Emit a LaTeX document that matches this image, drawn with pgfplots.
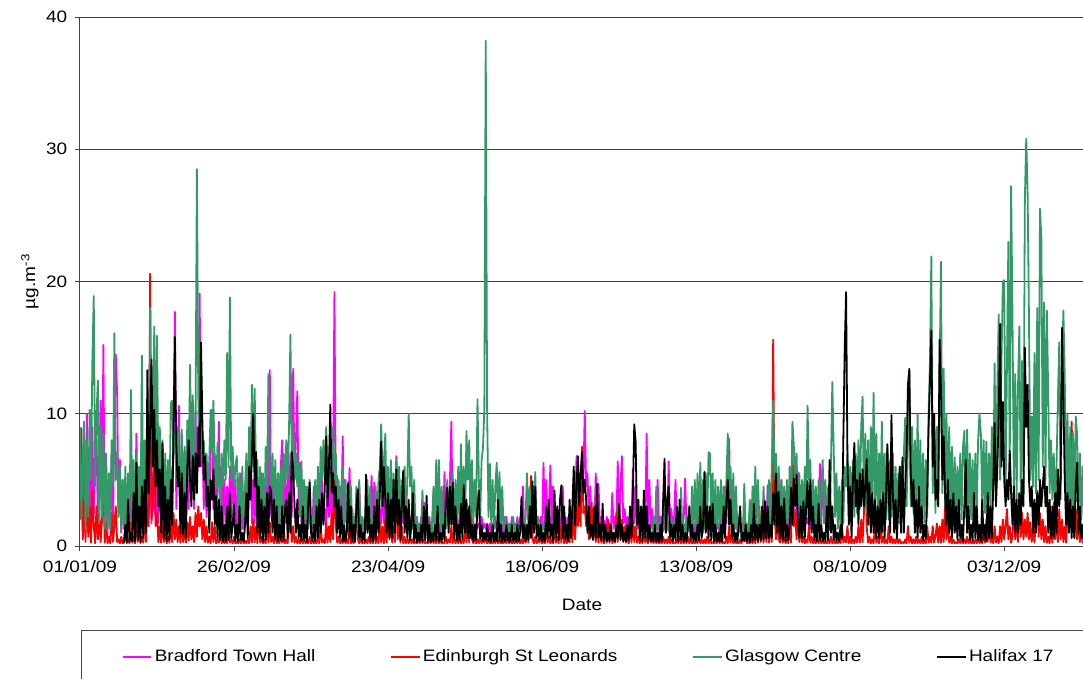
\documentclass[border=0pt]{standalone}
\usepackage{pgfplots}
\usepackage{pgfplotstable}
\pgfplotsset{compat=1.18}
\usepackage{fontspec}
\setmainfont{Liberation Sans}[FakeStretch=1.15]
\definecolor{bradford}{RGB}{255,0,255}
\definecolor{edinburgh}{RGB}{255,0,0}
\definecolor{glasgow}{RGB}{51,153,102}
\definecolor{halifax}{RGB}{0,0,0}
\newcommand{\chartfont}{\fontsize{12.4pt}{14pt}\selectfont}
\pgfplotstableread{
x B E G H
0.0 2.2 2.0 9.0 nan
0.5 6.0 8.9 2.2 nan
1.0 1.3 0.5 6.5 nan
1.5 8.0 3.5 9.4 nan
2.0 1.0 0.3 1.3 nan
2.5 10.0 5.0 8.0 nan
3.0 1.7 0.7 2.2 nan
3.5 7.5 3.0 10.3 nan
4.0 1.3 0.25 5.0 nan
4.5 9.0 4.2 14.0 nan
5.0 2.2 1.5 18.9 nan
5.5 6.0 0.2 4.5 nan
6.0 8.5 3.0 10.0 nan
6.5 1.7 0.5 12.5 nan
7.0 5.5 2.5 1.7 nan
7.5 11.0 0.3 9.0 nan
8.0 1.7 2.0 2.2 nan
8.5 15.2 5.0 8.5 nan
9.0 1.3 0.25 1.3 nan
9.5 6.0 1.8 7.0 nan
10.0 1.0 0.2 1.1 nan
10.5 5.0 0.7 5.5 nan
11.0 1.3 0.2 1.3 nan
11.5 7.0 2.5 8.0 nan
12.0 1.7 0.3 4.5 nan
12.5 9.0 1.5 16.1 nan
13.0 14.5 3.0 5.0 nan
13.5 11.5 0.3 7.1 nan
14.0 2.2 0.5 2.2 nan
14.5 6.5 0.2 6.0 nan
15.0 1.0 0.7 1.1 nan
15.5 5.0 0.2 5.0 0.35
16.0 1.3 0.25 1.3 0.3
16.5 4.5 1.5 6.0 1.6
17.0 1.0 0.2 1.1 0.3
17.5 2.2 0.5 5.5 3.5
18.0 1.1 0.2 1.3 0.3
18.5 5.0 1.8 11.8 1.0
19.0 1.3 0.25 2.2 0.35
19.5 2.8 0.7 6.5 4.0
20.0 1.7 0.2 1.3 0.35
20.5 8.5 2.0 7.0 6.3
21.0 1.3 0.3 1.7 0.45
21.5 5.5 1.5 6.0 3.0
22.0 1.7 0.2 2.2 0.3
22.5 6.0 0.7 14.4 4.5
23.0 1.3 0.25 1.7 0.6
23.5 4.5 2.5 8.0 5.0
24.0 1.7 0.3 4.5 1.0
24.5 5.5 3.0 10.0 13.3
25.0 2.2 1.5 6.0 4.0
25.5 6.0 20.6 18.0 9.0
26.0 1.7 2.0 7.5 14.1
26.5 5.5 3.0 9.0 6.0
27.0 2.8 8.8 16.6 10.3
27.5 2.2 1.5 6.0 4.5
28.0 5.0 2.5 15.9 8.0
28.5 1.7 0.3 5.0 3.0
29.0 6.5 1.5 9.0 5.8
29.5 1.7 0.25 4.5 1.0
30.0 5.0 2.0 8.0 7.8
30.5 1.3 0.3 2.2 0.6
31.0 4.5 1.5 7.0 4.5
31.5 1.3 0.2 1.7 0.35
32.0 5.0 0.7 6.5 3.5
32.5 1.7 0.25 2.2 0.45
33.0 6.0 1.8 10.8 5.0
33.5 2.2 0.3 11.0 1.6
34.0 8.0 2.5 7.0 9.0
34.5 17.7 0.5 8.5 15.8
35.0 2.8 2.0 5.0 7.8
35.5 7.0 0.3 9.0 4.5
36.0 10.6 1.5 6.0 6.0
36.5 2.2 0.25 4.5 1.0
37.0 6.0 2.0 8.8 5.5
37.5 1.7 0.3 2.2 0.9
38.0 5.5 1.5 7.5 4.0
38.5 1.7 0.25 2.2 0.6
39.0 7.0 1.8 9.5 6.0
39.5 2.8 0.4 5.0 8.0
40.0 11.3 2.2 13.7 5.0
40.5 4.5 0.5 6.0 3.0
41.0 8.0 1.5 11.4 6.8
41.5 2.8 0.3 5.0 3.5
42.0 10.2 2.5 9.0 7.0
42.5 5.0 0.7 28.5 4.0
43.0 7.0 3.0 11.4 9.0
43.5 19.1 1.5 8.0 6.0
44.0 6.0 2.5 10.0 15.4
44.5 8.5 0.5 6.5 9.3
45.0 2.8 2.0 8.0 5.0
45.5 7.0 0.3 5.0 6.8
46.0 2.2 1.5 7.0 3.0
46.5 6.0 0.25 4.5 4.5
47.0 1.7 0.7 6.5 1.0
47.5 8.5 0.2 10.3 5.0
48.0 10.3 1.8 7.0 3.5
48.5 2.8 0.3 11.0 5.8
49.0 7.0 1.5 6.0 1.6
49.5 2.2 0.2 4.5 3.8
50.0 5.0 0.5 7.8 0.6
50.5 9.4 0.25 5.0 3.5
51.0 1.7 1.5 2.2 0.45
51.5 6.0 0.2 7.0 3.0
52.0 1.7 0.5 4.5 0.35
52.5 5.0 0.2 8.0 1.6
53.0 1.3 0.7 5.0 0.3
53.5 4.5 0.2 14.6 3.0
54.0 1.7 1.5 6.0 0.45
54.5 6.0 0.25 18.8 4.0
55.0 2.2 0.5 5.0 0.6
55.5 7.0 0.2 7.5 1.6
56.0 1.7 0.7 4.5 3.2
56.5 5.0 0.2 6.0 0.35
57.0 1.3 0.3 6.8 1.6
57.5 4.5 0.2 2.2 0.35
58.0 1.7 0.5 5.5 3.0
58.5 5.5 0.2 1.7 0.45
59.0 1.3 0.7 6.0 1.0
59.5 2.8 0.2 1.3 0.3
60.0 1.7 0.4 4.5 1.6
60.5 5.0 0.2 7.0 4.0
61.0 1.3 0.5 2.2 0.6
61.5 6.0 0.2 9.0 6.0
62.0 7.8 1.5 5.0 3.5
62.5 1.7 0.25 12.2 7.0
63.0 5.0 2.0 6.0 10.0
63.5 1.7 0.3 11.9 4.5
64.0 6.0 1.5 5.0 7.1
64.5 1.3 0.2 6.5 1.0
65.0 5.0 2.6 2.2 4.5
65.5 1.7 0.25 6.0 0.6
66.0 5.5 0.7 1.7 3.5
66.5 1.3 0.2 5.5 0.35
67.0 4.5 0.5 1.3 3.0
67.5 1.7 0.2 7.5 0.45
68.0 6.0 1.5 4.5 4.0
68.5 2.8 0.25 13.0 1.0
69.0 13.3 1.8 6.0 4.5
69.5 2.2 0.3 4.5 4.1
70.0 6.0 0.7 7.0 1.0
70.5 1.7 0.2 2.2 3.5
71.0 5.0 1.5 6.5 0.45
71.5 1.3 0.2 1.7 3.0
72.0 5.5 0.5 5.5 0.35
72.5 1.7 0.2 1.3 1.6
73.0 6.0 0.7 6.0 0.45
73.5 8.0 0.25 2.2 3.0
74.0 2.8 1.5 7.0 0.35
74.5 5.0 0.2 4.5 2.8
75.0 1.7 0.5 8.0 3.5
75.5 6.5 0.2 5.0 0.6
76.0 2.8 1.8 9.0 4.0
76.5 7.0 2.2 16.0 1.0
77.0 2.2 0.3 6.0 7.1
77.5 13.4 1.5 9.4 5.8
78.0 5.0 0.25 5.0 3.0
78.5 8.0 0.7 7.0 1.0
79.0 11.7 0.2 4.5 3.5
79.5 2.8 0.5 6.3 0.6
80.0 6.3 0.2 2.2 1.6
80.5 1.7 0.7 6.4 0.35
81.0 5.0 0.2 1.7 3.0
81.5 1.3 0.5 5.0 0.45
82.0 4.5 0.2 1.3 1.6
82.5 1.3 0.3 4.5 0.3
83.0 2.8 0.2 1.3 3.5
83.5 1.7 0.7 5.0 4.8
84.0 2.3 0.2 1.7 1.0
84.5 1.3 0.5 2.2 0.35
85.0 4.5 0.2 1.3 1.6
85.5 1.3 0.3 5.0 0.35
86.0 2.8 0.2 1.7 3.0
86.5 1.7 0.7 6.0 0.6
87.0 5.0 0.2 2.2 3.5
87.5 2.2 1.5 7.5 1.0
88.0 5.0 0.25 5.0 4.0
88.5 1.7 0.5 8.0 1.6
89.0 2.8 0.2 5.0 4.5
89.5 1.7 1.8 9.0 8.3
90.0 4.5 0.25 6.0 3.0
90.5 2.2 1.5 7.0 6.0
91.0 5.0 0.3 4.5 10.7
91.5 1.7 2.5 6.0 4.0
92.0 5.5 0.5 9.0 5.5
92.5 19.2 6.0 5.0 3.0
93.0 2.8 1.5 7.0 4.5
93.5 5.3 0.25 2.2 1.0
94.0 1.7 0.7 5.0 3.5
94.5 4.5 0.2 1.7 0.6
95.0 1.7 0.5 4.5 3.0
95.5 8.3 0.2 6.0 0.35
96.0 1.7 0.7 1.7 1.6
96.5 5.0 0.2 5.0 0.35
97.0 1.3 0.5 1.3 1.0
97.5 2.8 0.2 4.5 4.8
98.0 5.9 1.5 1.3 0.6
98.5 1.3 0.2 4.5 3.0
99.0 2.8 0.5 1.3 0.35
99.5 1.3 0.2 2.2 1.6
100.0 2.2 0.7 1.1 0.3
100.5 1.3 4.1 4.5 3.0
101.0 2.8 0.5 1.3 4.3
101.5 4.8 0.2 5.0 0.6
102.0 1.3 0.7 1.3 1.6
102.5 2.2 0.2 2.2 0.35
103.0 1.0 0.3 1.1 1.0
103.5 2.2 0.2 2.2 0.35
104.0 1.3 0.5 1.3 5.4
104.5 2.8 0.2 5.0 1.0
105.0 1.3 0.7 1.3 3.0
105.5 2.2 0.2 4.5 0.45
106.0 5.3 0.5 1.3 1.6
106.5 1.3 0.2 2.2 0.35
107.0 4.8 1.5 1.1 3.0
107.5 1.3 0.2 4.5 0.45
108.0 2.2 0.7 1.3 3.5
108.5 1.3 0.2 5.0 1.0
109.0 2.8 1.8 6.0 4.0
109.5 1.7 0.25 9.2 7.9
110.0 4.5 1.5 5.0 3.0
110.5 1.7 0.2 6.5 6.0
111.0 5.0 2.0 8.5 3.5
111.5 1.7 0.25 2.2 1.0
112.0 2.8 3.6 6.0 4.0
112.5 1.3 0.5 1.7 0.6
113.0 4.5 2.0 6.5 3.5
113.5 1.7 0.25 2.2 0.6
114.0 5.0 1.5 5.5 5.0
114.5 1.7 0.3 1.7 1.0
115.0 6.8 6.4 6.5 5.8
115.5 2.2 0.5 2.2 1.6
116.0 4.5 2.0 6.0 3.5
116.5 1.3 0.25 1.7 0.45
117.0 2.8 1.5 5.0 3.0
117.5 1.7 0.2 2.2 5.7
118.0 5.3 0.7 6.0 1.0
118.5 1.3 0.2 1.7 3.0
119.0 2.8 0.5 5.0 0.6
119.5 1.7 0.2 10.0 3.5
120.0 2.2 0.7 4.5 0.45
120.5 1.3 0.2 6.0 1.6
121.0 4.1 0.5 1.3 4.0
121.5 1.3 0.2 5.0 0.35
122.0 2.2 0.3 1.1 1.6
122.5 1.0 0.2 2.2 0.3
123.0 1.7 0.5 1.1 1.0
123.5 1.0 0.2 1.7 0.35
124.0 2.2 0.7 1.1 1.6
124.5 1.3 0.2 4.2 0.35
125.0 3.3 0.5 0.9 3.0
125.5 1.0 0.2 1.7 0.45
126.0 1.7 0.3 1.1 3.8
126.5 1.0 0.2 2.2 0.35
127.0 2.2 0.5 1.1 1.6
127.5 1.3 0.2 1.7 0.3
128.0 1.7 0.7 1.1 1.0
128.5 4.0 0.2 4.5 0.35
129.0 1.3 0.5 1.3 1.6
129.5 2.2 0.2 6.5 0.45
130.0 1.3 0.7 2.2 3.0
130.5 1.7 0.2 6.5 0.35
131.0 1.0 0.5 1.3 1.0
131.5 2.2 0.2 4.5 0.35
132.0 1.3 0.3 1.1 1.6
132.5 5.6 0.2 2.2 0.45
133.0 1.7 0.7 1.3 3.5
133.5 2.8 0.2 5.0 4.4
134.0 1.7 0.5 1.3 1.0
134.5 5.0 0.25 4.5 4.5
135.0 9.4 1.5 1.7 1.6
135.5 1.7 0.2 5.5 4.8
136.0 2.2 0.7 1.3 0.6
136.5 1.3 0.2 5.0 3.0
137.0 1.7 0.5 1.7 0.45
137.5 1.3 0.2 6.0 1.6
138.0 2.2 0.7 1.7 0.35
138.5 1.3 0.2 7.7 3.2
139.0 1.7 0.5 2.2 0.6
139.5 1.3 0.2 6.0 4.6
140.0 2.2 1.5 1.7 1.0
140.5 1.3 0.25 8.7 3.5
141.0 1.7 2.0 5.0 0.6
141.5 2.2 0.25 8.0 3.0
142.0 4.3 4.3 2.2 0.6
142.5 1.3 0.5 6.5 1.6
143.0 1.7 0.2 1.7 0.35
143.5 1.3 0.7 5.0 1.6
144.0 1.7 0.2 2.2 0.45
144.5 1.3 0.5 11.1 3.0
145.0 1.7 0.2 5.0 4.2
145.5 1.3 0.7 2.2 0.6
146.0 2.2 0.2 6.5 1.6
146.5 1.3 0.5 7.4 0.35
147.0 1.7 0.25 10.4 1.0
147.5 1.3 0.7 38.2 0.45
148.0 1.7 0.2 10.4 1.6
148.5 1.0 0.5 2.2 0.35
149.0 1.7 0.2 6.2 1.0
149.5 1.0 0.3 1.7 0.3
150.0 1.7 0.2 5.0 1.6
150.5 1.3 0.5 1.3 0.35
151.0 2.2 0.2 4.5 1.0
151.5 1.0 0.7 6.3 0.35
152.0 1.7 0.2 1.7 3.5
152.5 1.0 0.5 5.6 0.35
153.0 2.2 0.2 1.3 1.6
153.5 1.0 0.3 4.5 0.3
154.0 1.7 0.2 1.1 1.0
154.5 1.0 0.5 2.2 0.35
155.0 2.2 0.2 1.1 1.6
155.5 1.3 0.7 1.7 0.35
156.0 1.7 0.2 0.9 1.0
156.5 1.0 0.5 1.7 0.3
157.0 2.2 0.2 1.1 1.6
157.5 1.3 0.3 2.2 0.35
158.0 1.7 0.2 1.1 1.0
158.5 1.0 0.5 1.7 0.3
159.0 2.2 0.2 1.1 1.6
159.5 1.3 0.7 1.3 0.35
160.0 1.7 0.2 2.2 1.0
160.5 1.3 0.5 1.3 3.7
161.0 4.5 0.2 2.2 0.6
161.5 1.3 0.7 1.1 1.6
162.0 1.7 0.25 2.2 0.35
162.5 1.0 1.5 5.5 1.6
163.0 1.7 0.25 1.3 0.45
163.5 1.3 2.0 4.5 3.0
164.0 2.2 5.3 1.3 0.6
164.5 1.3 0.5 4.5 4.9
165.0 1.7 0.2 1.3 1.0
165.5 4.3 0.7 5.6 4.5
166.0 1.3 0.2 1.3 0.6
166.5 2.2 0.5 2.2 1.6
167.0 1.3 0.25 1.1 0.45
167.5 2.2 0.7 1.7 1.6
168.0 1.3 0.2 1.1 0.35
168.5 6.3 0.5 1.7 1.0
169.0 1.7 0.2 1.1 0.35
169.5 5.0 1.5 nan 3.0
170.0 1.7 0.25 nan 0.6
170.5 2.8 0.7 nan 3.5
171.0 6.1 0.2 nan 0.6
171.5 1.7 0.5 nan 1.6
172.0 4.5 0.2 nan 0.35
172.5 1.7 1.5 nan 4.2
173.0 2.8 0.25 nan 0.6
173.5 1.3 0.7 nan 3.0
174.0 2.2 0.2 nan 0.45
174.5 1.3 1.5 nan 3.5
175.0 2.2 0.25 nan 4.6
175.5 4.5 2.0 nan 0.6
176.0 1.3 0.2 nan 3.0
176.5 2.2 0.7 nan 0.45
177.0 1.3 0.2 nan 1.6
177.5 2.2 1.5 nan 0.35
178.0 1.7 0.25 nan 3.5
178.5 2.8 2.0 nan 0.6
179.0 1.7 0.3 nan 3.0
179.5 4.5 2.5 nan 6.0
180.0 2.2 0.5 nan 1.6
180.5 6.8 3.0 nan 4.5
181.0 2.8 1.5 nan 6.8
181.5 5.5 3.5 nan 3.0
182.0 4.5 1.5 nan 5.5
182.5 6.8 7.5 nan 7.1
183.0 5.0 2.5 nan 4.0
183.5 10.2 3.0 nan 5.0
184.0 4.5 1.5 nan 3.5
184.5 5.5 2.5 nan 1.0
185.0 1.7 0.5 nan 3.0
185.5 4.5 2.0 nan 0.6
186.0 1.7 3.3 nan 1.6
186.5 2.8 0.5 nan 0.45
187.0 1.5 2.0 nan 3.0
187.5 5.5 0.3 nan 0.6
188.0 1.7 1.5 nan 4.7
188.5 4.7 0.25 nan 0.6
189.0 1.5 1.8 nan 1.6
189.5 2.2 0.25 nan 0.45
190.0 1.3 0.7 nan 3.2
190.5 1.9 0.2 nan 0.35
191.0 1.3 1.5 nan 1.6
191.5 2.2 0.25 nan 0.35
192.0 1.3 2.0 nan 1.0
192.5 1.7 0.25 nan 0.35
193.0 1.3 1.5 nan 1.6
193.5 4.0 0.2 nan 0.45
194.0 1.3 0.7 nan 1.0
194.5 2.2 0.25 nan 0.35
195.0 1.7 2.5 nan 1.6
195.5 6.4 0.3 nan 0.6
196.0 1.7 3.2 nan 3.2
196.5 4.5 0.5 nan 0.45
197.0 6.8 2.0 nan 1.6
197.5 1.7 0.3 nan 0.35
198.0 2.8 1.5 nan 1.0
198.5 1.3 0.25 nan 0.35
199.0 2.2 0.7 nan 1.6
199.5 1.3 0.2 nan 0.45
200.0 2.8 1.5 nan 3.0
200.5 1.7 0.25 nan 0.6
201.0 5.8 2.0 nan 4.0
201.5 1.7 0.3 nan 9.2
202.0 4.5 1.5 nan 7.9
202.5 1.3 0.25 nan 1.6
203.0 2.8 0.7 nan 3.5
203.5 1.3 0.2 nan 0.45
204.0 2.2 0.5 nan 3.0
204.5 1.3 0.2 nan 0.35
205.0 2.8 1.5 nan 4.2
205.5 1.7 0.25 nan 0.6
206.0 8.5 0.7 nan 3.0
206.5 1.7 0.2 nan 0.35
207.0 5.0 1.5 nan 1.6
207.5 1.3 0.25 nan 0.35
208.0 2.8 0.5 0.9 1.0
208.5 1.3 0.2 2.2 0.35
209.0 2.2 0.7 1.1 1.6
209.5 1.3 0.2 4.5 0.35
210.0 5.0 0.5 1.1 1.0
210.5 1.3 0.2 1.7 0.3
211.0 2.2 0.5 1.2 1.6
211.5 1.3 0.2 2.2 0.35
212.0 2.2 0.7 1.1 3.5
212.5 1.3 0.2 4.5 6.6
213.0 2.2 0.5 1.1 1.0
213.5 1.3 0.2 1.7 3.5
214.0 6.4 0.7 1.1 4.5
214.5 1.7 0.2 2.2 0.6
215.0 2.8 0.5 1.1 1.6
215.5 1.3 0.2 1.7 0.35
216.0 2.2 0.3 1.1 1.6
216.5 5.0 0.2 2.2 0.45
217.0 1.3 0.5 1.1 3.0
217.5 2.2 0.2 1.7 0.35
218.0 1.3 0.7 1.1 3.5
218.5 2.8 0.2 4.4 0.45
219.0 1.3 0.5 1.1 1.6
219.5 2.2 0.2 1.7 0.35
220.0 5.1 0.5 1.1 1.0
220.5 1.3 0.2 2.2 0.35
221.0 2.2 0.7 1.1 1.6
221.5 1.3 0.2 1.7 3.0
222.0 1.7 0.5 1.1 0.45
222.5 1.0 0.2 4.5 1.6
223.0 1.7 0.3 1.1 0.35
223.5 1.0 0.2 5.0 1.0
224.0 2.2 0.5 1.3 0.35
224.5 1.3 0.2 5.5 1.6
225.0 4.0 0.7 1.3 0.45
225.5 1.3 0.2 6.3 3.0
226.0 1.7 0.5 1.7 0.6
226.5 1.0 0.2 5.0 1.6
227.0 1.7 0.5 1.3 5.6
227.5 1.3 0.2 5.5 1.0
228.0 2.2 0.7 1.7 3.0
228.5 1.3 0.2 7.1 0.6
229.0 1.7 0.5 7.0 3.0
229.5 1.0 0.2 2.2 0.45
230.0 1.7 0.3 5.5 3.2
230.5 1.0 0.2 1.3 0.35
231.0 2.2 0.5 5.0 1.6
231.5 1.3 0.2 1.3 0.35
232.0 1.7 0.7 4.5 1.0
232.5 1.0 0.2 1.1 0.3
233.0 2.2 0.5 5.0 1.6
233.5 1.3 0.2 1.3 0.35
234.0 1.7 0.3 4.5 3.0
234.5 4.5 0.2 1.3 0.6
235.0 1.7 0.7 5.0 3.5
235.5 5.0 0.2 8.5 5.0
236.0 8.1 1.5 4.5 1.6
236.5 1.7 0.25 6.0 3.5
237.0 2.8 0.7 1.7 0.6
237.5 1.3 0.2 5.5 1.6
238.0 2.2 0.5 1.3 0.35
238.5 1.3 0.2 4.5 1.0
239.0 1.7 0.3 1.1 0.35
239.5 1.0 0.2 2.2 1.6
240.0 1.7 0.5 1.1 3.0
240.5 1.0 0.2 1.7 0.35
241.0 1.7 0.7 1.1 1.0
241.5 1.3 3.0 4.7 0.35
242.0 1.7 0.5 1.1 1.6
242.5 1.0 0.2 1.7 0.35
243.0 1.7 0.3 1.1 1.0
243.5 1.0 0.2 3.5 0.3
244.0 1.7 0.5 1.1 1.6
244.5 1.3 0.2 4.5 0.35
245.0 4.5 0.7 1.3 3.2
245.5 1.3 0.2 6.0 0.45
246.0 1.7 1.5 1.7 1.6
246.5 1.3 0.25 5.0 0.35
247.0 2.2 3.0 1.3 1.6
247.5 1.3 0.3 2.2 0.45
248.0 2.2 1.5 1.1 3.0
248.5 1.3 0.25 4.5 0.45
249.0 1.7 2.0 1.3 3.4
249.5 1.3 0.3 2.2 0.6
250.0 4.6 1.5 1.3 3.0
250.5 1.7 0.25 5.0 0.6
251.0 2.8 2.0 1.7 1.6
251.5 1.7 0.3 6.0 0.6
252.0 5.0 15.6 11.0 4.0
252.5 6.9 2.5 5.0 1.6
253.0 5.6 0.5 7.0 5.5
253.5 1.7 2.5 2.2 1.0
254.0 4.5 0.5 6.0 4.1
254.5 1.7 0.25 1.7 0.6
255.0 5.0 1.5 5.0 3.0
255.5 1.7 0.25 1.3 0.45
256.0 2.8 0.7 4.5 3.6
256.5 1.3 0.2 1.3 0.35
257.0 2.2 0.5 5.0 1.6
257.5 1.3 0.2 1.7 0.45
258.0 2.2 1.5 6.0 1.6
258.5 1.7 0.25 2.2 4.4
259.0 5.7 8.1 9.4 1.6
259.5 2.2 1.5 7.6 5.1
260.0 2.8 2.5 5.0 3.0
260.5 1.7 0.5 7.0 5.4
261.0 5.6 2.0 2.2 1.6
261.5 1.7 0.3 5.5 0.6
262.0 2.8 1.5 1.7 3.0
262.5 1.7 0.25 5.0 0.6
263.0 4.0 0.7 1.7 3.4
263.5 1.3 0.2 6.0 0.6
264.0 2.2 0.5 2.2 3.0
264.5 1.7 0.25 10.6 4.9
265.0 2.2 1.5 5.0 1.6
265.5 1.3 0.25 6.5 5.0
266.0 2.2 0.7 1.7 1.0
266.5 1.3 0.2 5.0 3.0
267.0 2.2 0.5 1.7 0.45
267.5 1.3 0.2 4.5 1.6
268.0 2.8 0.7 1.3 0.35
268.5 1.7 0.2 5.0 3.2
269.0 6.2 0.5 1.3 0.45
269.5 1.7 0.2 4.5 1.6
270.0 4.5 0.5 6.5 0.35
270.5 3.3 0.2 1.7 1.0
271.0 1.7 0.3 5.0 0.35
271.5 nan 0.2 1.3 3.0
272.0 nan 0.5 4.5 0.45
272.5 nan 0.2 1.3 6.5
273.0 nan 0.7 6.0 1.0
273.5 nan 0.2 12.4 3.0
274.0 nan 0.5 7.4 0.45
274.5 nan 0.2 2.2 1.6
275.0 nan 0.3 5.5 0.35
275.5 nan 0.2 1.3 1.0
276.0 nan 0.5 4.5 0.35
276.5 nan 0.2 1.3 1.6
277.0 nan 1.5 5.0 0.6
277.5 nan 0.25 1.7 8.0
278.0 nan 0.7 6.0 14.8
278.5 nan 0.25 4.5 19.2
279.0 nan 1.5 7.0 6.8
279.5 nan 0.2 2.2 1.6
280.0 nan 0.7 6.0 4.5
280.5 nan 0.2 2.2 0.6
281.0 nan 0.5 6.5 5.0
281.5 nan 0.2 2.2 7.8
282.0 nan 0.7 7.0 3.0
282.5 nan 0.25 2.5 5.0
283.0 nan 1.5 8.0 1.6
283.5 nan 0.25 2.8 5.5
284.0 nan 2.0 9.0 3.0
284.5 nan 0.3 11.3 5.8
285.0 nan 2.5 3.0 3.0
285.5 nan 7.2 8.5 4.5
286.0 nan 1.5 2.5 6.6
286.5 nan 0.25 8.0 1.6
287.0 nan 0.7 2.2 4.8
287.5 nan 0.2 9.0 1.0
288.0 nan 0.5 3.0 4.0
288.5 nan 0.2 11.6 1.0
289.0 nan 1.5 3.0 3.5
289.5 nan 0.25 8.5 0.6
290.0 nan 0.7 2.5 3.0
290.5 nan 0.2 7.0 0.6
291.0 nan 2.0 2.2 3.5
291.5 nan 0.25 9.4 1.0
292.0 nan 0.7 2.5 4.0
292.5 nan 0.2 7.0 0.6
293.0 nan 0.5 2.0 3.5
293.5 nan 0.2 7.4 7.7
294.0 nan 1.5 2.0 4.0
294.5 nan 0.25 6.5 1.0
295.0 nan 0.7 2.2 9.9
295.5 nan 0.2 7.0 4.0
296.0 nan 0.5 2.2 1.0
296.5 nan 0.2 6.0 3.5
297.0 nan 0.7 1.7 0.6
297.5 nan 0.2 5.5 3.0
298.0 nan 0.5 1.7 6.0
298.5 nan 0.2 6.0 1.0
299.0 nan 0.3 2.2 6.7
299.5 nan 0.2 7.0 1.0
300.0 nan 0.5 9.7 4.5
300.5 nan 0.2 3.0 7.0
301.0 nan 1.5 8.0 12.2
301.5 nan 0.25 13.1 13.4
302.0 nan 0.7 3.0 5.5
302.5 nan 0.2 9.0 3.0
303.0 nan 0.5 2.5 5.0
303.5 nan 0.2 8.0 1.0
304.0 nan 0.7 2.2 3.5
304.5 nan 0.2 10.0 0.6
305.0 nan 0.5 2.5 4.5
305.5 nan 0.2 8.0 1.0
306.0 nan 0.7 2.0 3.0
306.5 nan 0.2 7.0 0.45
307.0 nan 0.5 1.8 1.6
307.5 nan 0.2 6.5 0.6
308.0 nan 1.5 2.2 4.0
308.5 nan 0.25 10.0 9.0
309.0 nan 0.7 14.0 12.3
309.5 nan 0.25 21.9 16.3
310.0 nan 1.5 4.0 6.0
310.5 nan 0.25 10.0 10.0
311.0 nan 0.7 2.5 3.5
311.5 nan 1.7 9.0 5.0
312.0 nan 0.25 3.0 3.0
312.5 nan 1.5 13.0 15.6
313.0 nan 0.25 21.5 11.9
313.5 nan 2.0 4.0 5.0
314.0 nan 0.3 13.4 8.3
314.5 nan 3.0 3.0 4.0
315.0 nan 0.5 10.0 1.6
315.5 nan 2.0 2.5 5.0
316.0 nan 0.25 9.0 1.0
316.5 nan 0.7 2.0 3.5
317.0 nan 0.2 7.5 0.6
317.5 nan 0.5 1.8 4.0
318.0 nan 0.2 6.7 1.0
318.5 nan 0.3 2.2 3.0
319.0 nan 0.2 6.0 0.45
319.5 nan 0.5 2.2 3.5
320.0 nan 0.2 7.0 0.6
320.5 nan 0.7 2.0 1.6
321.0 nan 0.2 7.5 0.35
321.5 nan 0.5 8.7 3.0
322.0 nan 0.2 2.2 6.5
322.5 nan 0.7 8.8 1.0
323.0 nan 0.2 2.5 3.0
323.5 nan 0.5 7.0 0.45
324.0 nan 0.2 2.0 1.6
324.5 nan 0.3 6.5 0.35
325.0 nan 0.2 2.2 4.0
325.5 nan 0.5 7.0 0.6
326.0 nan 0.2 2.5 3.0
326.5 nan 0.7 8.0 0.45
327.0 nan 0.2 10.0 1.6
327.5 nan 0.5 8.5 0.35
328.0 nan 0.2 2.8 3.5
328.5 nan 1.5 8.0 0.45
329.0 nan 0.25 2.5 1.6
329.5 nan 2.0 7.9 0.35
330.0 nan 0.3 2.2 4.0
330.5 nan 2.5 7.0 0.6
331.0 nan 0.25 2.5 3.0
331.5 nan 0.7 9.0 0.6
332.0 nan 0.2 3.5 4.5
332.5 nan 1.5 13.8 9.3
333.0 nan 0.25 4.0 3.0
333.5 nan 0.7 12.0 6.0
334.0 nan 0.2 17.5 10.0
334.5 nan 1.5 5.0 16.8
335.0 nan 0.3 14.0 6.0
335.5 nan 2.0 19.9 10.9
336.0 nan 0.5 20.1 5.0
336.5 nan 1.5 4.0 3.0
337.0 nan 2.8 14.0 5.0
337.5 nan 0.5 23.0 3.5
338.0 nan 1.5 6.0 7.2
338.5 nan 0.25 27.2 4.0
339.0 nan 0.7 17.3 1.6
339.5 nan 3.2 4.5 4.5
340.0 nan 0.5 13.0 1.0
340.5 nan 2.0 3.5 3.5
341.0 nan 0.3 12.0 1.0
341.5 nan 3.9 16.6 4.0
342.0 nan 0.7 4.0 1.6
342.5 nan 2.5 14.0 5.0
343.0 nan 0.5 5.0 3.0
343.5 nan 2.0 26.2 15.0
344.0 nan 0.7 30.8 9.0
344.5 nan 2.5 26.7 12.2
345.0 nan 0.5 17.1 5.0
345.5 nan 1.8 5.0 3.0
346.0 nan 0.3 9.8 4.5
346.5 nan 1.5 4.5 1.0
347.0 nan 0.25 14.6 3.5
347.5 nan 2.0 4.0 1.0
348.0 nan 4.2 18.0 4.0
348.5 nan 0.7 5.0 1.6
349.0 nan 2.5 25.5 5.0
349.5 nan 0.5 23.3 3.0
350.0 nan 2.0 6.0 4.5
350.5 nan 0.3 18.4 6.0
351.0 nan 1.5 5.0 3.0
351.5 nan 0.25 17.8 4.5
352.0 nan 0.7 11.3 1.0
352.5 nan 0.2 4.0 3.5
353.0 nan 1.5 8.0 0.6
353.5 nan 0.25 3.5 3.0
354.0 nan 3.3 7.0 0.6
354.5 nan 0.5 3.0 4.0
355.0 nan 2.0 6.0 1.0
355.5 nan 0.3 11.0 5.8
356.0 nan 2.8 15.4 3.0
356.5 nan 0.5 3.5 5.0
357.0 nan 2.0 13.0 16.5
357.5 nan 0.3 17.8 11.1
358.0 nan 1.5 12.9 5.0
358.5 nan 0.25 3.0 1.6
359.0 nan 2.5 10.0 4.0
359.5 nan 5.6 2.5 1.0
360.0 nan 1.5 9.0 3.5
360.5 nan 9.4 2.5 0.6
361.0 nan 5.3 8.5 3.0
361.5 nan 0.7 2.2 0.6
362.0 nan 2.8 9.8 4.5
362.5 nan 0.5 8.4 6.3
363.0 nan 2.0 2.5 1.0
363.5 nan 0.3 7.0 3.0
364.0 nan 1.5 2.0 0.6
364.5 nan 0.25 6.0 1.6
365.0 nan 0.5 2.2 0.35
}\airdata
\begin{document}
\begin{tikzpicture}
\begin{axis}[
  at={(60pt,99.75pt)}, anchor=south west,
  width=753pt, height=396.75pt, scale only axis,
  xmin=0, xmax=365, ymin=0, ymax=40,
  unbounded coords=jump,
  axis x line=bottom, axis y line=left,
  axis line style={-, black!75, line width=0.75pt},
  xtick={0,56,112,168,224,280,336},
  xticklabels={01/01/09,26/02/09,23/04/09,18/06/09,13/08/09,08/10/09,03/12/09},
  ytick={0,10,20,30,40},
  tick align=outside,
  major tick length=4pt,
  tick style={black!75, line width=0.75pt},
  ymajorgrids,
  grid style={black!75, line width=0.75pt},
  /pgf/number format/assume math mode=true,
  tick label style={font=\chartfont},
  xticklabel style={yshift=-3pt},
  yticklabel style={xshift=-2pt},
  xlabel={Date},
  ylabel={µg.m\textsuperscript{-3}},
  every axis x label/.style={at={(axis description cs:0.5,-0.1115)}, anchor=center, font=\chartfont},
  every axis y label/.style={at={(axis description cs:-0.0498,0.5)}, anchor=center, rotate=90, font=\chartfont},
  legend columns=4,
  legend style={at={(axis description cs:0.0414,-0.2098)}, anchor=west, draw=none, fill=none,
    inner sep=0pt, font=\chartfont, nodes={inner sep=2pt},
    /tikz/every even column/.append style={column sep=54pt}},
  legend image code/.code={\draw[#1, line width=1.2pt] (0pt,0pt) -- (21.5pt,0pt);},
  every axis plot/.append style={line width=1.35pt, line join=round},
]
\addplot[bradford, no markers] table[x=x, y=B]{\airdata};
\addplot[edinburgh, no markers] table[x=x, y=E]{\airdata};
\addplot[glasgow, no markers] table[x=x, y=G]{\airdata};
\addplot[halifax, no markers] table[x=x, y=H]{\airdata};
\legend{Bradford Town Hall, Edinburgh St Leonards, Glasgow Centre, Halifax 17}
\end{axis}
\draw[black!70, line width=0.75pt] (60.75pt,36pt) rectangle (840pt,-20pt);
\pgfresetboundingbox
\path[use as bounding box] (0pt,0pt) rectangle (812.25pt,509.25pt);
\end{tikzpicture}
\end{document}
